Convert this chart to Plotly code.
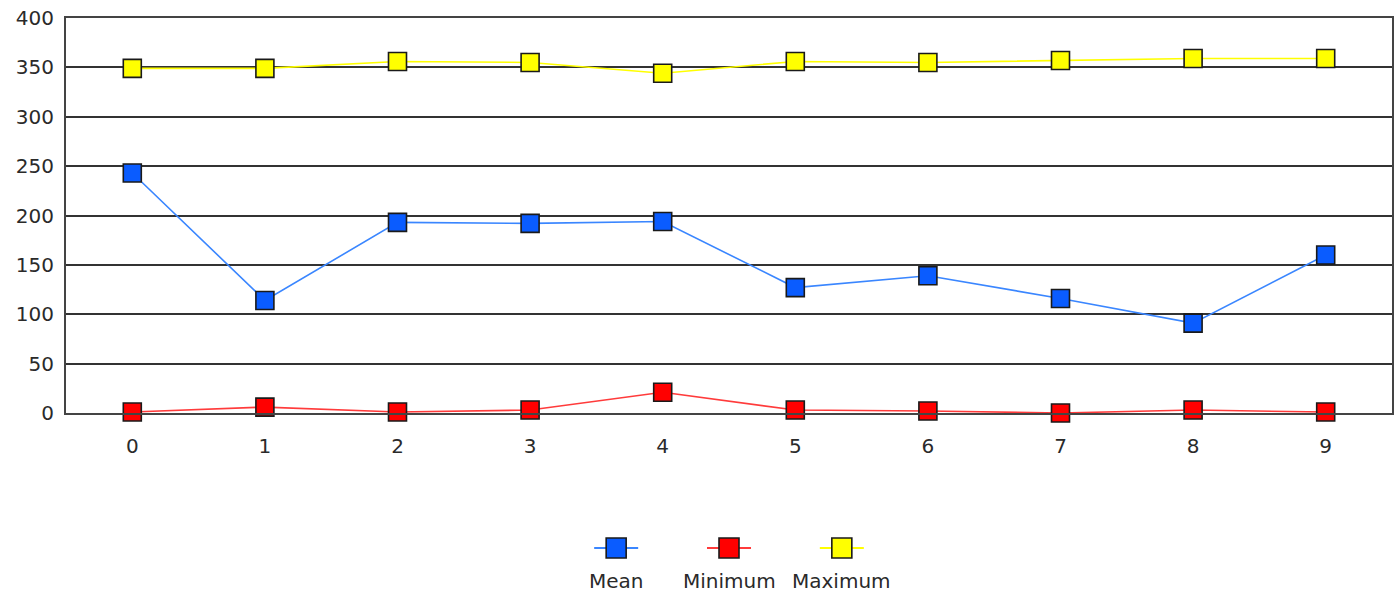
import plotly.graph_objects as go

categories = [0, 1, 2, 3, 4, 5, 6, 7, 8, 9]
mean_vals = [243, 114, 193, 192, 194, 127, 139, 116, 91, 160]
min_vals = [1, 6, 1, 3, 21, 3, 2, 0, 3, 1]
max_vals = [349, 349, 356, 355, 344, 356, 355, 357, 359, 359]
y_ticks = [0, 50, 100, 150, 200, 250, 300, 350, 400]

series = [
    ("Mean", mean_vals, "#3a86ff", "#0a5cff"),
    ("Minimum", min_vals, "#ff3b3b", "#ff0000"),
    ("Maximum", max_vals, "#ffff00", "#ffff00"),
]

FONT = "DejaVu Sans"
TXT = "#2a2a2a"

fig = go.Figure()
for name, vals, lc, mc in series:
    fig.add_trace(go.Scatter(
        x=categories, y=vals, name=name, mode="lines+markers",
        line=dict(color=lc, width=1.6, shape="linear"),
        marker=dict(symbol="square", size=18, color=mc,
                    line=dict(color="#1a1a1a", width=1.6)),
        cliponaxis=False,
        showlegend=False,
    ))

# legend keys drawn manually (symbol above text)
legend_x = [617, 730, 843]
plot_l, plot_r, plot_t, plot_b = 66, 1394, 18, 413
pw = plot_r - plot_l
ph = plot_b - plot_t
for (name, vals, lc, mc), px in zip(series, legend_x):
    ax = (px - plot_l) / pw
    ay = (plot_b - 548) / ph
    fig.add_shape(type="line", xref="paper", yref="paper",
                  xsizemode="pixel", ysizemode="pixel",
                  xanchor=ax, yanchor=ay, x0=-22, x1=22, y0=0, y1=0,
                  line=dict(color=lc, width=2))
    fig.add_shape(type="rect", xref="paper", yref="paper",
                  xsizemode="pixel", ysizemode="pixel",
                  xanchor=ax, yanchor=ay, x0=-10, x1=10, y0=-10, y1=10,
                  fillcolor=mc, line=dict(color="#1a1a1a", width=1.6))
    fig.add_annotation(x=ax, y=(plot_b - 581) / ph, xref="paper", yref="paper",
                       text=name, showarrow=False,
                       font=dict(family=FONT, size=20, color=TXT),
                       xanchor="center", yanchor="middle")

fig.update_layout(
    width=1399, height=596,
    margin=dict(l=plot_l, r=1399 - plot_r, t=plot_t, b=596 - plot_b),
    paper_bgcolor="white", plot_bgcolor="white",
    font=dict(family=FONT, size=20, color=TXT),
    showlegend=False,
)
fig.update_xaxes(
    range=[-0.5, 9.5], tickmode="array", tickvals=categories,
    ticktext=[str(c) for c in categories],
    showgrid=False, zeroline=False,
    showline=True, linecolor="#444444", linewidth=2, mirror=True,
    ticks="", ticklabelstandoff=14,
    tickfont=dict(family=FONT, size=20, color=TXT),
)
fig.update_yaxes(
    range=[0, 400], tickmode="array", tickvals=y_ticks,
    showgrid=True, gridcolor="#333333", gridwidth=2,
    zeroline=False,
    showline=True, linecolor="#444444", linewidth=2, mirror=True,
    ticks="", ticklabelstandoff=6,
    tickfont=dict(family=FONT, size=20, color=TXT),
)

fig.write_html("out.html",
               config={"displayModeBar": False},
               post_script="document.body.style.margin='0px';document.body.style.padding='0px';")
